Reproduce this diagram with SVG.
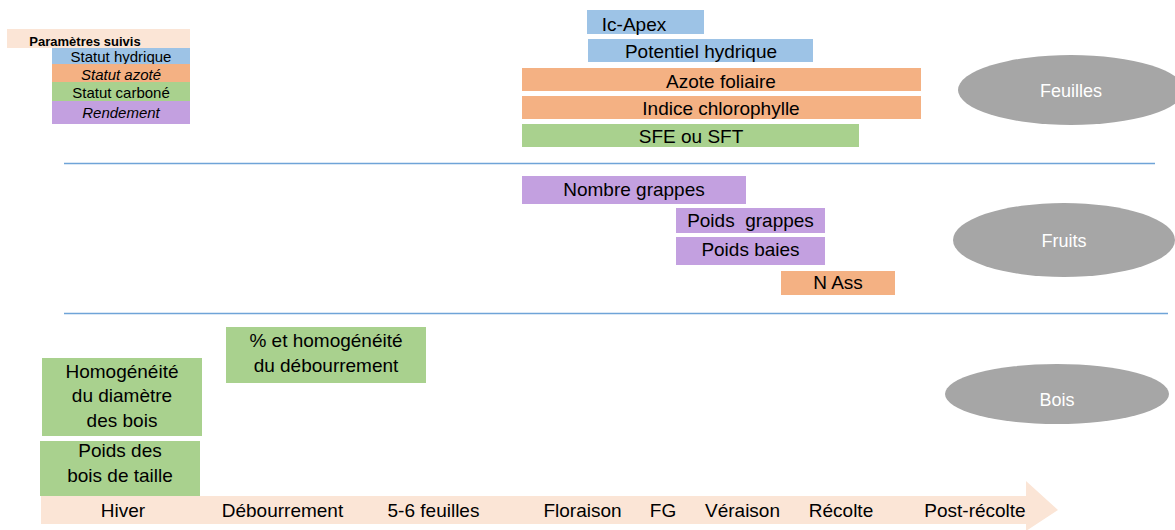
<svg xmlns="http://www.w3.org/2000/svg" width="1175" height="530" viewBox="0 0 1175 530">
<style>
.t{font-family:"Liberation Sans",Arial,sans-serif;font-size:19px;fill:#000;text-anchor:middle}
.lg{font-family:"Liberation Sans",Arial,sans-serif;font-size:15px;fill:#000;text-anchor:middle}
.el{font-family:"Liberation Sans",Arial,sans-serif;font-size:18px;fill:#fff;text-anchor:middle}
.blue{fill:#9DC3E6}.orange{fill:#F4B183}.green{fill:#A9D18E}.purple{fill:#C3A0E0}.peach{fill:#FBE5D6}
.grey{fill:#A6A6A6}
.sep{stroke:#6FA4D8;stroke-width:1.5;fill:none}
</style>
<rect width="1175" height="530" fill="#fff"/>
<g id="legend">
<rect class="peach" x="7" y="29" width="183" height="19"/>
<text x="85" y="46" style="font-family:'Liberation Sans',Arial,sans-serif;font-size:13px;font-weight:bold" text-anchor="middle">Paramètres suivis</text>
<rect class="blue" x="52" y="48" width="138" height="16"/>
<text class="lg" x="121" y="62">Statut hydrique</text>
<rect class="orange" x="52" y="64" width="138" height="18"/>
<text class="lg" x="121" y="80" font-style="italic">Statut azoté</text>
<rect class="green" x="52" y="82" width="138" height="19"/>
<text class="lg" x="121" y="98">Statut carboné</text>
<rect class="purple" x="52" y="101" width="138" height="23"/>
<text class="lg" x="121" y="118" font-style="italic">Rendement</text>
</g>
<g id="connectors">
<line class="sep" x1="64" y1="163.5" x2="1155" y2="163.5"/>
<line class="sep" x1="64" y1="313.5" x2="1168" y2="313.5"/>
</g>
<g id="ic-apex"><rect class="blue" x="587" y="10" width="117" height="24"/><text class="t" x="634" y="31">Ic-Apex</text></g>
<g id="potentiel"><rect class="blue" x="588" y="39" width="225" height="23"/><text class="t" x="701" y="58">Potentiel hydrique</text></g>
<g id="azote"><rect class="orange" x="522" y="68" width="399" height="23"/><text class="t" x="721" y="88">Azote foliaire</text></g>
<g id="chloro"><rect class="orange" x="522" y="96" width="399" height="23"/><text class="t" x="721" y="115">Indice chlorophylle</text></g>
<g id="sfe"><rect class="green" x="522" y="124" width="337" height="23"/><text class="t" x="691" y="143">SFE ou SFT</text></g>
<g id="nombre"><rect class="purple" x="522" y="176" width="224" height="28"/><text class="t" x="634" y="196">Nombre grappes</text></g>
<g id="poids-grappes"><rect class="purple" x="676" y="208" width="149" height="25"/><text class="t" x="750.5" y="227" style="white-space:pre">Poids  grappes</text></g>
<g id="poids-baies"><rect class="purple" x="676" y="237" width="149" height="28"/><text class="t" x="750.5" y="256">Poids baies</text></g>
<g id="nass"><rect class="orange" x="781" y="271" width="114" height="24"/><text class="t" x="838" y="289">N Ass</text></g>
<g id="debourrement-box"><rect class="green" x="226" y="327" width="200" height="56"/><text class="t" x="326" y="347">% et homogénéité</text><text class="t" x="326" y="372">du débourrement</text></g>
<g id="homogeneite"><rect class="green" x="42" y="358" width="160" height="78"/><text class="t" x="122" y="378">Homogénéité</text><text class="t" x="122" y="402">du diamètre</text><text class="t" x="122" y="427">des bois</text></g>
<g id="poids-bois"><rect class="green" x="40" y="441" width="160" height="55"/><text class="t" x="120" y="457">Poids des</text><text class="t" x="120" y="482">bois de taille</text></g>
<g id="feuilles"><ellipse class="grey" cx="1071" cy="90" rx="113" ry="35"/><text class="el" x="1071" y="97">Feuilles</text></g>
<g id="fruits"><ellipse class="grey" cx="1064" cy="240" rx="111" ry="37"/><text class="el" x="1064" y="247">Fruits</text></g>
<g id="bois"><ellipse class="grey" cx="1057" cy="394" rx="112" ry="30"/><text class="el" x="1057" y="406">Bois</text></g>
<g id="timeline">
<polygon class="peach" points="41,496 1026,496 1026,481 1058,510 1026,531 1026,524 41,524"/>
<text class="t" x="123" y="517">Hiver</text>
<text class="t" x="282.5" y="517">Débourrement</text>
<text class="t" x="433.5" y="517">5-6 feuilles</text>
<text class="t" x="582.5" y="517">Floraison</text>
<text class="t" x="663" y="517">FG</text>
<text class="t" x="742.5" y="517">Véraison</text>
<text class="t" x="841" y="517">Récolte</text>
<text class="t" x="975" y="517">Post-récolte</text>
</g>
</svg>
